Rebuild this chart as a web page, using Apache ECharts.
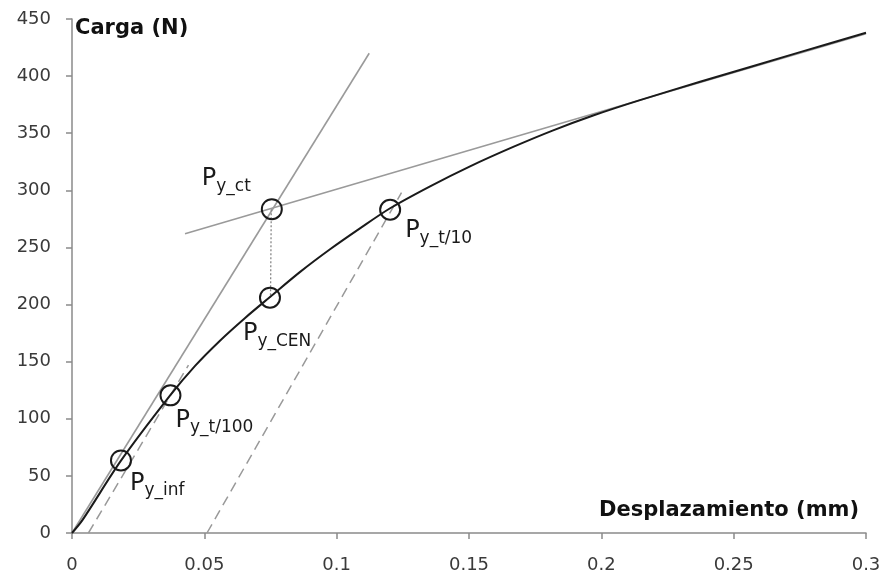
<!DOCTYPE html>
<html><head><meta charset="utf-8">
<script src="https://cdn.jsdelivr.net/npm/echarts@6/dist/echarts.min.js"></script>
<style>html,body{margin:0;padding:0;background:#fff}#c{width:885px;height:576px}</style>
</head><body><div id="c"></div>
<script>
// Load-displacement curve
const curveX = [0, 0.004, 0.0185, 0.0370, 0.0465, 0.0560, 0.0654, 0.0748, 0.0862, 0.0975, 0.1088, 0.1202, 0.1353, 0.1504, 0.1667, 0.1818, 0.1969, 0.2146, 0.2373, 0.2751, 0.3];
const curveY = [0, 11.5, 63.3, 120.2, 146.3, 168.6, 188.3, 206.6, 228.6, 248.4, 266.7, 284.3, 303.5, 321.0, 338.0, 352.5, 365.5, 379.0, 395.0, 421.0, 438.0];
// Construction lines
const initTangentX = [0, 0.1123];
const initTangentY = [0, 420];
const upperTangentX = [0.0427, 0.3];
const upperTangentY = [262, 437];
const offset100X = [0.0062, 0.0440];
const offset100Y = [0, 147];
const offset10X = [0.0510, 0.1245];
const offset10Y = [0, 298];
const verticalX = [0.0753, 0.0750];
const verticalY = [283.5, 206];
// Characteristic points
const pointNames = ['inf', 't/100', 'CEN', 't/10', 'ct'];
const pointX = [0.0185, 0.0372, 0.0748, 0.1202, 0.0755];
const pointY = [63.5, 120.5, 206, 283, 283.5];
// Axis ticks
const xTicks = [0, 0.05, 0.1, 0.15, 0.2, 0.25, 0.3];
const yTicks = [0, 50, 100, 150, 200, 250, 300, 350, 400, 450];

const labelOffsets = {'inf':[9,25], 't/100':[5,27], 'CEN':[-27,38], 't/10':[15,23], 'ct':[-70,-28]};
const zip = (a, b) => a.map((v, i) => [v, b[i]]);
const FONT = 'DejaVu Sans';

const chart = echarts.init(document.getElementById('c'));
chart.setOption({
  animation: false,
  backgroundColor: '#fff',
  grid: {left: 72, right: 19, top: 19, bottom: 43},
  xAxis: {
    type: 'value', min: 0, max: 0.3, interval: 0.05,
    name: 'Desplazamiento (mm)', nameLocation: 'end', nameGap: -7,
    nameTextStyle: {fontFamily: FONT, fontWeight: 'bold', fontSize: 21, color: '#111', align: 'right', verticalAlign: 'bottom', padding: [0, 0, 12, 0]},
    splitLine: {show: false},
    axisLine: {lineStyle: {color: '#8a8a8a', width: 1.5}},
    axisTick: {show: true, length: 6, lineStyle: {color: '#8a8a8a', width: 1.5}},
    axisLabel: {fontFamily: FONT, fontSize: 18, color: '#3a3a3a', margin: 23,
      formatter: v => { const t = xTicks.find(k => Math.abs(k - v) < 1e-9); return String(t !== undefined ? +t.toFixed(2) : v); }}
  },
  yAxis: {
    type: 'value', min: 0, max: 450, interval: 50,
    name: 'Carga (N)', nameLocation: 'end', nameGap: -10,
    nameTextStyle: {fontFamily: FONT, fontWeight: 'bold', fontSize: 21, color: '#111', align: 'left', verticalAlign: 'middle', padding: [0, 0, 0, 3]},
    splitLine: {show: false},
    axisLine: {show: true, lineStyle: {color: '#8a8a8a', width: 1.5}},
    axisTick: {show: true, length: 6, lineStyle: {color: '#8a8a8a', width: 1.5}},
    axisLabel: {fontFamily: FONT, fontSize: 18, color: '#3a3a3a', margin: 21,
      formatter: v => String(yTicks.find(k => k === v) ?? v)}
  },
  series: [
    {type: 'line', data: zip(initTangentX, initTangentY), symbol: 'none', lineStyle: {color: '#9a9a9a', width: 1.6}, z: 2},
    {type: 'line', data: zip(upperTangentX, upperTangentY), symbol: 'none', lineStyle: {color: '#9a9a9a', width: 1.6}, z: 2},
    {type: 'line', data: zip(offset100X, offset100Y), symbol: 'none', lineStyle: {color: '#999', width: 1.5, type: [10, 6]}, z: 2},
    {type: 'line', data: zip(offset10X, offset10Y), symbol: 'none', lineStyle: {color: '#999', width: 1.5, type: [10, 6]}, z: 2},
    {type: 'line', data: zip(verticalX, verticalY), symbol: 'none', lineStyle: {color: '#888', width: 1.3, type: [2, 2]}, z: 2},
    {type: 'line', data: zip(curveX, curveY), symbol: 'none', smooth: 0.3, lineStyle: {color: '#1a1a1a', width: 2}, z: 3},
    {type: 'scatter', z: 4,
      data: pointNames.map((n, i) => ({
        value: [pointX[i], pointY[i]], name: n,
        label: {offset: labelOffsets[n]}
      })),
      symbol: 'circle', symbolSize: 20,
      itemStyle: {color: 'rgba(255,255,255,0)', borderColor: '#1a1a1a', borderWidth: 2, opacity: 1},
      label: {
        show: true, position: 'inside', align: 'left', verticalAlign: 'middle',
        formatter: p => '{p|P}{s|y_' + p.name + '}',
        rich: {
          p: {fontFamily: FONT, fontSize: 24, color: '#1a1a1a', lineHeight: 28, verticalAlign: 'top'},
          s: {fontFamily: FONT, fontSize: 17, color: '#1a1a1a', lineHeight: 28, verticalAlign: 'bottom', padding: [9, 0, 0, 0]}
        }
      }
    }
  ]
});
</script></body></html>
